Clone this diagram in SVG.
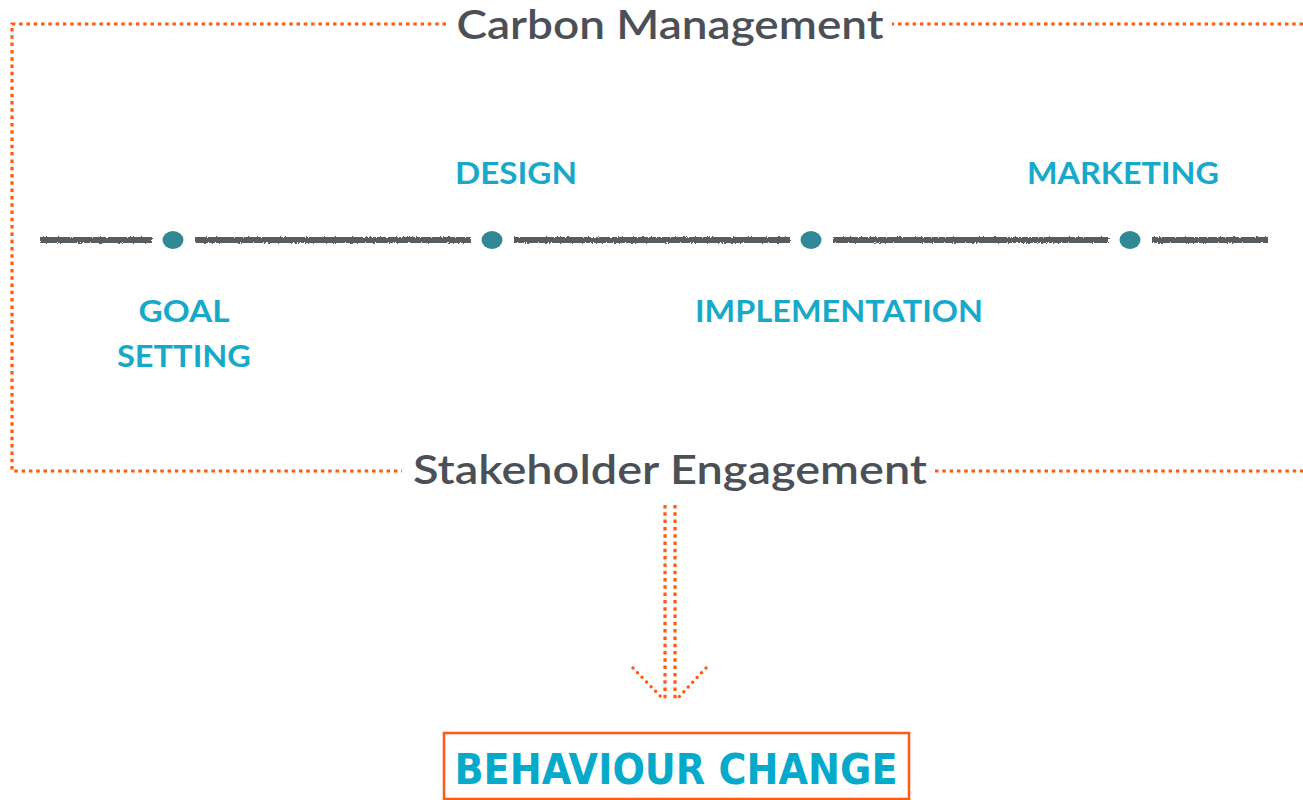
<svg xmlns="http://www.w3.org/2000/svg" width="1303" height="800" viewBox="0 0 1303 800">
<style>
.frame{fill:none;stroke:#ff5a0f;stroke-width:3.2;stroke-dasharray:3.5 3.8}
.head{fill:none;stroke:#ff5a0f;stroke-width:3.5;stroke-linecap:round;stroke-dasharray:0 6.5}
.title{font-family:"Lato","Open Sans",sans-serif;font-weight:600;fill:#4b5057}
.stage{font-family:"Lato","Open Sans",sans-serif;font-weight:700;fill:#17a9c9;font-size:31px}
.tl{stroke:#575b61;stroke-width:6;fill:none}
.dot{fill:#2f8893}
</style>
<defs>
<filter id="rough" filterUnits="userSpaceOnUse" x="0" y="220" width="1303" height="40">
<feTurbulence type="fractalNoise" baseFrequency="0.6" numOctaves="2" seed="3"/>
<feDisplacementMap in="SourceGraphic" scale="3"/>
</filter>
</defs>
<rect width="1303" height="800" fill="#ffffff"/>
<g id="connectors">
<path class="frame" d="M1303 24 H892 M446 24 H12 V471 H402 M935 471 H1303"/>
<path class="frame" d="M665 505 V700 M675 505 V700"/>
<path class="head" d="M633 668 L664 700 M706 668 L676 700"/>
<g filter="url(#rough)">
<path class="tl" d="M40 240 H152 M195 240 H471 M514 240 H790 M833 240 H1109 M1152 240 H1268"/>
</g>
</g>
<g id="carbon-management"><text class="title" x="670" y="39" font-size="40" text-anchor="middle" textLength="427" lengthAdjust="spacingAndGlyphs">Carbon Management</text></g>
<g id="stakeholder-engagement"><text class="title" x="670" y="484" font-size="40" text-anchor="middle" textLength="514" lengthAdjust="spacingAndGlyphs">Stakeholder Engagement</text></g>
<g id="goal-setting">
<ellipse class="dot" cx="173" cy="240" rx="10.5" ry="9"/>
<text class="stage" x="184" y="322" text-anchor="middle" textLength="91" lengthAdjust="spacingAndGlyphs">GOAL</text>
<text class="stage" x="184" y="367" text-anchor="middle" textLength="134" lengthAdjust="spacingAndGlyphs">SETTING</text>
</g>
<g id="design">
<ellipse class="dot" cx="492" cy="240" rx="10.5" ry="9"/>
<text class="stage" x="516" y="184" text-anchor="middle" textLength="122" lengthAdjust="spacingAndGlyphs">DESIGN</text>
</g>
<g id="implementation">
<ellipse class="dot" cx="811" cy="240" rx="10.5" ry="9"/>
<text class="stage" x="839" y="322" text-anchor="middle" textLength="288" lengthAdjust="spacingAndGlyphs">IMPLEMENTATION</text>
</g>
<g id="marketing">
<ellipse class="dot" cx="1130" cy="240" rx="10.5" ry="9"/>
<text class="stage" x="1123" y="184" text-anchor="middle" textLength="192" lengthAdjust="spacingAndGlyphs">MARKETING</text>
</g>
<g id="behaviour-change">
<rect x="444" y="733" width="465" height="66" fill="none" stroke="#ff5a0f" stroke-width="2.5"/>
<text x="676" y="784" text-anchor="middle" font-family="DejaVu Sans, sans-serif" font-weight="700" font-size="43" fill="#05a9c9" textLength="443" lengthAdjust="spacingAndGlyphs">BEHAVIOUR CHANGE</text>
</g>
</svg>
